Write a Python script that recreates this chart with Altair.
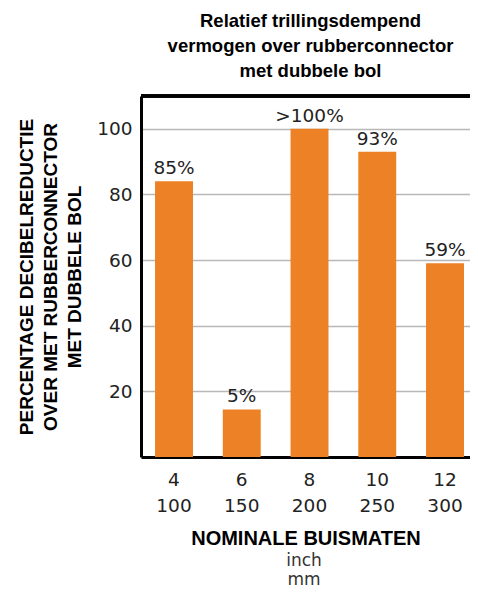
import altair as alt
import pandas as pd

sizes_inch = ["4", "6", "8", "10", "12"]
sizes_mm = ["100", "150", "200", "250", "300"]
values = [84, 14.5, 100, 93, 59]
labels = ["85%", "5%", ">100%", "93%", "59%"]

title_lines = ["Relatief trillingsdempend", "vermogen over rubberconnector", "met dubbele bol"]
y_title = ["PERCENTAGE DECIBELREDUCTIE", "OVER MET RUBBERCONNECTOR", "MET DUBBELE BOL"]
x_title = "NOMINALE BUISMATEN"
unit_inch = ["inch"]
unit_mm = ["mm"]

cats = [f"{a}|{b}" for a, b in zip(sizes_inch, sizes_mm)]
df = pd.DataFrame({"size": cats, "value": values, "label": labels})

ORANGE = "#EC8125"
BOLD_FONT = "Liberation Sans"
NUM_FONT = "DejaVu Sans"

x_enc = alt.X(
    "size:N",
    sort=cats,
    scale=alt.Scale(paddingInner=0.44, paddingOuter=0.148, align=0.7),
    axis=alt.Axis(
        title=x_title,
        labelExpr="split(datum.label, '|')",
        labelAngle=0,
        labelFont=NUM_FONT,
        labelFontSize=18.5,
        labelColor="#222222",
        labelLineHeight=26,
        labelPadding=13,
        ticks=False,
        domainColor="black",
        domainWidth=3,
        titleFont=BOLD_FONT,
        titleFontSize=20,
        titleFontWeight="bold",
        titleColor="black",
        titlePadding=14,
    ),
)

y_scale = alt.Scale(domain=[0, 110], nice=False)

bars = alt.Chart(df).mark_bar(color=ORANGE).encode(
    x=x_enc,
    y=alt.Y(
        "value:Q",
        scale=y_scale,
        axis=alt.Axis(
            title=y_title,
            values=[20, 40, 60, 80, 100],
            labelFont=NUM_FONT,
            labelFontSize=18.5,
            labelColor="#222222",
            labelPadding=9,
            ticks=False,
            domainColor="black",
            domainWidth=3,
            grid=True,
            gridColor="#b8b8b8",
            gridWidth=1.5,
            titleFont=BOLD_FONT,
            titleFontSize=19,
            titleFontWeight="bold",
            titleColor="black",
            titleLineHeight=24,
            titlePadding=12,
        ),
    ),
)

text = alt.Chart(df).mark_text(
    dy=-7, baseline="alphabetic", font=NUM_FONT, fontSize=18.5, color="#222222"
).encode(x=alt.X("size:N", sort=cats), y=alt.Y("value:Q", scale=y_scale), text="label:N")

top_rule = alt.Chart(df).mark_rule(color="black", strokeWidth=3).encode(y=alt.datum(110))

inch_text = alt.Chart(pd.DataFrame({"t": unit_inch})).mark_text(
    font=NUM_FONT, fontSize=17, fontWeight="normal", color="#333333",
    baseline="alphabetic", align="center"
).encode(x=alt.value(163), y=alt.value(470), text="t:N")

mm_text = alt.Chart(pd.DataFrame({"t": unit_mm})).mark_text(
    font=NUM_FONT, fontSize=17, fontWeight="normal", color="#333333",
    baseline="alphabetic", align="center"
).encode(x=alt.value(163), y=alt.value(489), text="t:N")

chart = (
    alt.layer(bars, text, top_rule, inch_text, mm_text)
    .properties(
        width=329,
        height=361,
        autosize=alt.AutoSizeParams(type="none"),
        padding={"left": 133, "top": 88, "right": 0, "bottom": 133},
        title=alt.TitleParams(
            text=title_lines,
            font=BOLD_FONT,
            fontSize=18.5,
            fontWeight="bold",
            color="black",
            lineHeight=25,
            anchor="middle",
            offset=14,
            dx=5,
        ),
    )
    .configure_view(stroke=None)
)

chart.save("out.html", embed_options={"renderer": "svg", "actions": False})
